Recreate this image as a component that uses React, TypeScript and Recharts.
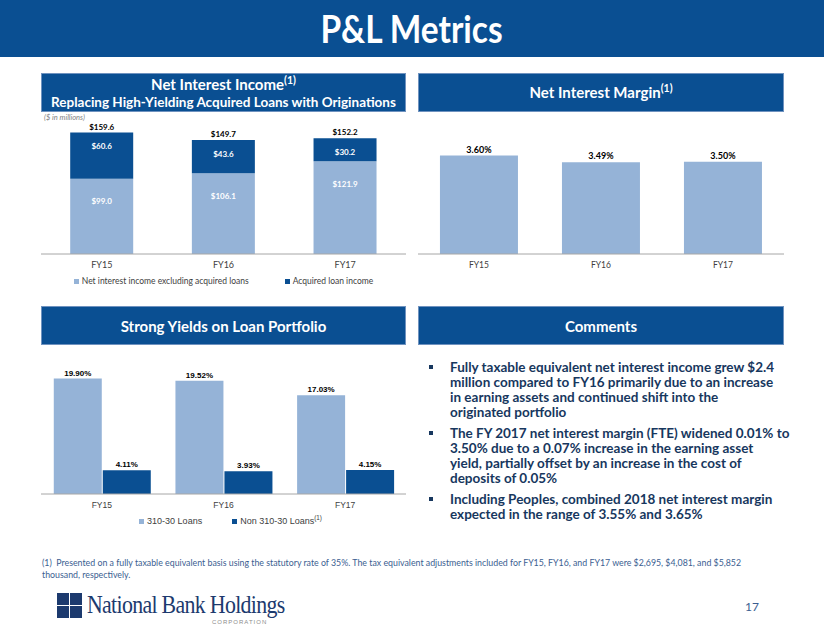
import { BarChart, Bar, XAxis, YAxis, Legend, LabelList } from 'recharts';

const years = ['FY15', 'FY16', 'FY17'];
const niiExAcquired = [99.0, 106.1, 121.9];
const acquiredIncome = [60.6, 43.6, 30.2];
const niiTotal = [159.6, 149.7, 152.2];
const nimValues = [3.6, 3.49, 3.5];
const yield31030 = [19.9, 19.52, 17.03];
const yieldNon31030 = [4.11, 3.93, 4.15];

const comments = [
  [
    'Fully taxable equivalent net interest income grew $2.4',
    'million compared to FY16 primarily due to an increase',
    'in earning assets and continued shift into the',
    'originated portfolio',
  ],
  [
    'The FY 2017 net interest margin (FTE) widened 0.01% to',
    '3.50% due to a 0.07% increase in the earning asset',
    'yield, partially offset by an increase in the cost of',
    'deposits of 0.05%',
  ],
  [
    'Including Peoples, combined 2018 net interest margin',
    'expected in the range of 3.55% and 3.65%',
  ],
];

const BLUE = '#0A4F92';
const LIGHT = '#95B3D7';
const NAVY = '#17375E';
const AXIS = '#A6A6A6';
const GOTHIC = 'Lato, "Open Sans", sans-serif';
const ARIAL = '"Liberation Sans", Arial, sans-serif';

const niiData = years.map((year, i) => ({
  year,
  base: niiExAcquired[i],
  acquired: acquiredIncome[i],
  total: niiTotal[i],
}));
const nimData = years.map((year, i) => ({ year, nim: nimValues[i] }));
const yieldData = years.map((year, i) => ({
  year,
  loans31030: yield31030[i],
  non31030: yieldNon31030[i],
}));

const money = (v: any) => `$${Number(v).toFixed(1)}`;
const pct = (v: any) => `${Number(v).toFixed(2)}%`;

function Header({ left, top, width, height, children }: any) {
  return (
    <div
      style={{
        position: 'absolute',
        left,
        top,
        width,
        height,
        background: BLUE,
        border: '1px solid #6F92BF',
        boxSizing: 'border-box',
        color: '#fff',
        fontFamily: GOTHIC,
        fontWeight: 700,
        fontSize: 15,
        lineHeight: '16px',
        display: 'flex',
        flexDirection: 'column',
        alignItems: 'center',
        justifyContent: 'center',
        textAlign: 'center',
        whiteSpace: 'nowrap',
      }}
    >
      {children}
    </div>
  );
}

const Sup = ({ children }: any) => (
  <span style={{ fontSize: '0.7em', position: 'relative', top: '-0.5em' }}>{children}</span>
);

function SquareLegend({ items, font, size, gap, shift }: any) {
  return (
    <div
      style={{
        display: 'flex',
        justifyContent: 'center',
        gap,
        fontFamily: font,
        fontSize: size,
        color: '#404040',
        lineHeight: '14px',
        marginLeft: shift || 0,
      }}
    >
      {items.map((it: any) => (
        <span key={it.label} style={{ display: 'flex', alignItems: 'center' }}>
          <span
            style={{ width: 5, height: 5, background: it.color, marginRight: 3, display: 'inline-block' }}
          />
          {it.label}
          {it.sup ? <Sup>{it.sup}</Sup> : null}
        </span>
      ))}
    </div>
  );
}

export default function App() {
  return (
    <div
      style={{
        position: 'absolute',
        left: 0,
        top: 0,
        width: 824,
        height: 637,
        background: '#fff',
        overflow: 'hidden',
        fontFamily: GOTHIC,
      }}
    >
      {/* title band */}
      <div
        style={{
          position: 'absolute',
          left: 0,
          top: 0,
          width: 824,
          height: 57,
          background: BLUE,
          color: '#fff',
          fontWeight: 700,
          fontSize: 38,
          lineHeight: '57px',
          textAlign: 'center',
        }}
      >
        <span style={{ display: 'inline-block', transform: 'scaleX(0.88)' }}>P&amp;L Metrics</span>
      </div>

      {/* Net interest income */}
      <Header left={41} top={73} width={365} height={39}>
        <div>
          Net Interest Income<Sup>(1)</Sup>
        </div>
        <div style={{ fontSize: 13.5 }}>Replacing High-Yielding Acquired Loans with Originations</div>
      </Header>
      <div
        style={{
          position: 'absolute',
          left: 44,
          top: 113,
          fontSize: 7.5,
          fontStyle: 'italic',
          color: '#7F7F7F',
          fontFamily: GOTHIC,
        }}
      >
        ($ in millions)
      </div>
      <div style={{ position: 'absolute', left: 41, top: 112 }}>
        <BarChart
          width={365}
          height={182}
          data={niiData}
          margin={{ top: 5, right: 0, left: 0, bottom: 6 }}
          barCategoryGap="24%"
        >
          <XAxis
            dataKey="year"
            height={20}
            tickLine={false}
            axisLine={{ stroke: AXIS }}
            tick={{ fontSize: 9, fill: '#404040', fontFamily: GOTHIC }}
          />
          <YAxis hide domain={[0, 180]} />
          <Legend
            height={14}
            content={() => (
              <SquareLegend
                font={GOTHIC}
                size={8.5}
                gap={36}
                items={[
                  { label: 'Net interest income excluding acquired loans', color: LIGHT },
                  { label: 'Acquired loan income', color: BLUE },
                ]}
              />
            )}
          />
          <Bar dataKey="base" stackId="nii" fill={LIGHT} isAnimationActive={false}>
            <LabelList
              dataKey="base"
              position="insideTop"
              offset={20}
              formatter={money}
              style={{ fill: '#fff', fontSize: 8, fontWeight: 700, fontFamily: GOTHIC }}
            />
          </Bar>
          <Bar dataKey="acquired" stackId="nii" fill={BLUE} isAnimationActive={false}>
            <LabelList
              dataKey="acquired"
              position="insideTop"
              offset={11}
              formatter={money}
              style={{ fill: '#fff', fontSize: 8, fontWeight: 700, fontFamily: GOTHIC }}
            />
            <LabelList
              dataKey="total"
              position="top"
              offset={3}
              formatter={money}
              style={{ fill: '#000', fontSize: 8, fontWeight: 700, fontFamily: GOTHIC }}
            />
          </Bar>
        </BarChart>
      </div>

      {/* Net interest margin */}
      <Header left={418} top={73} width={366} height={39}>
        <div>
          Net Interest Margin<Sup>(1)</Sup>
        </div>
      </Header>
      <div style={{ position: 'absolute', left: 418, top: 112 }}>
        <BarChart
          width={366}
          height={182}
          data={nimData}
          margin={{ top: 19, right: 0, left: 0, bottom: 20 }}
          barCategoryGap="18%"
        >
          <XAxis
            dataKey="year"
            height={20}
            tickLine={false}
            axisLine={{ stroke: AXIS }}
            tick={{ fontSize: 8.5, fill: '#404040', fontFamily: GOTHIC }}
          />
          <YAxis hide domain={[2, 4]} allowDataOverflow />
          <Bar dataKey="nim" fill={LIGHT} isAnimationActive={false}>
            <LabelList
              dataKey="nim"
              position="top"
              offset={3}
              formatter={pct}
              style={{ fill: '#000', fontSize: 9, fontWeight: 700, fontFamily: GOTHIC }}
            />
          </Bar>
        </BarChart>
      </div>

      {/* Strong yields */}
      <Header left={41} top={306} width={365} height={39}>
        <div>Strong Yields on Loan Portfolio</div>
      </Header>
      <div style={{ position: 'absolute', left: 41, top: 345 }}>
        <BarChart
          width={365}
          height={186}
          data={yieldData}
          margin={{ top: 4, right: 0, left: 0, bottom: 3 }}
          barCategoryGap="10.5%"
          barGap={1}
        >
          <XAxis
            dataKey="year"
            height={20}
            tickLine={false}
            axisLine={{ stroke: AXIS }}
            tick={{ fontSize: 8.5, fill: '#404040', fontFamily: ARIAL }}
          />
          <YAxis hide domain={[0, 25]} />
          <Legend
            height={14}
            content={() => (
              <SquareLegend
                font={ARIAL}
                size={9}
                gap={30}
                shift={14}
                items={[
                  { label: '310-30 Loans', color: LIGHT },
                  { label: 'Non 310-30 Loans', color: BLUE, sup: '(1)' },
                ]}
              />
            )}
          />
          <Bar dataKey="loans31030" fill={LIGHT} isAnimationActive={false}>
            <LabelList
              dataKey="loans31030"
              position="top"
              offset={3}
              formatter={pct}
              style={{ fill: '#000', fontSize: 8, fontWeight: 700, fontFamily: ARIAL }}
            />
          </Bar>
          <Bar dataKey="non31030" fill={BLUE} isAnimationActive={false}>
            <LabelList
              dataKey="non31030"
              position="top"
              offset={3}
              formatter={pct}
              style={{ fill: '#000', fontSize: 8, fontWeight: 700, fontFamily: ARIAL }}
            />
          </Bar>
        </BarChart>
      </div>

      {/* Comments */}
      <Header left={418} top={306} width={366} height={39}>
        <div>Comments</div>
      </Header>
      <div
        style={{
          position: 'absolute',
          left: 429,
          top: 360,
          width: 360,
          color: NAVY,
          fontFamily: GOTHIC,
          fontWeight: 700,
          fontSize: 13.5,
          lineHeight: '15px',
        }}
      >
        {comments.map((lines, i) => (
          <div key={i} style={{ position: 'relative', paddingLeft: 21, marginBottom: 6 }}>
            <span
              style={{
                position: 'absolute',
                left: 0,
                top: 5,
                width: 4,
                height: 4,
                background: NAVY,
              }}
            />
            {lines.map((l) => (
              <div key={l} style={{ whiteSpace: 'nowrap' }}>
                {l}
              </div>
            ))}
          </div>
        ))}
      </div>

      {/* footnote */}
      <div
        style={{
          position: 'absolute',
          left: 42,
          top: 557,
          fontFamily: GOTHIC,
          fontSize: 8.8,
          lineHeight: '12px',
          color: '#3B5E91',
          whiteSpace: 'nowrap',
        }}
      >
        (1)&nbsp; Presented on a fully taxable equivalent basis using the statutory rate of 35%. The tax equivalent
        adjustments included for FY15, FY16, and FY17 were $2,695, $4,081, and $5,852
        <br />
        thousand, respectively.
      </div>

      {/* logo */}
      <div style={{ position: 'absolute', left: 57, top: 593, width: 25, height: 25 }}>
        {[0, 1, 2, 3].map((k) => (
          <div
            key={k}
            style={{
              position: 'absolute',
              left: (k % 2) * 13,
              top: Math.floor(k / 2) * 13,
              width: 12,
              height: 12,
              background: '#1C3A6E',
            }}
          />
        ))}
      </div>
      <div
        style={{
          position: 'absolute',
          left: 87,
          top: 591,
          fontFamily: '"Liberation Serif", "DejaVu Serif", serif',
          fontSize: 26,
          lineHeight: '28px',
          color: '#1C3A6E',
          letterSpacing: -0.8,
          whiteSpace: 'nowrap',
          transform: 'scaleX(0.84)',
          transformOrigin: 'left top',
        }}
      >
        National Bank Holdings
      </div>
      <div
        style={{
          position: 'absolute',
          left: 212,
          top: 619,
          fontFamily: ARIAL,
          fontSize: 6,
          letterSpacing: 1,
          color: '#8C8C8C',
        }}
      >
        CORPORATION
      </div>
      <div
        style={{
          position: 'absolute',
          left: 745,
          top: 599,
          fontFamily: GOTHIC,
          fontSize: 12,
          color: '#3B5E91',
        }}
      >
        17
      </div>
    </div>
  );
}
